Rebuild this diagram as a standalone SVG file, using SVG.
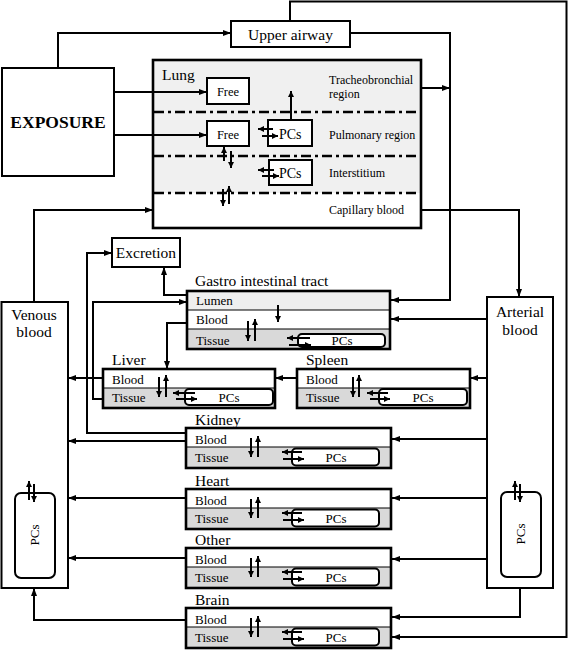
<svg xmlns="http://www.w3.org/2000/svg" width="568" height="650" viewBox="0 0 568 650">
<defs>
<style>
.t{font-family:"Liberation Serif","Times New Roman",serif;fill:#000}
.ti{font-size:15.5px}
.sm{font-size:12px}
.rw{font-size:13px}
.c{fill:none;stroke:#000;stroke-width:2}
.a{marker-end:url(#ah)}
.s{fill:none;stroke:#000;stroke-width:2;marker-end:url(#sh)}
.bx{fill:#fff;stroke:#000;stroke-width:2}
.ob{fill:none;stroke:#000;stroke-width:2.6}
.tis{fill:#d9d9d9}
.dv{stroke:#000;stroke-width:1.2}
.pc{fill:#fff;stroke:#000;stroke-width:2}
.dd{stroke:#000;stroke-width:2.6;stroke-dasharray:10,4,3,4}
</style>
<marker id="ah" viewBox="0 0 8 6" refX="8" refY="3" markerWidth="8" markerHeight="6" markerUnits="userSpaceOnUse" orient="auto"><path d="M0,0 L8,3 L0,6 z" fill="#000"/></marker>
<marker id="sh" viewBox="0 0 6 6" refX="6" refY="3" markerWidth="6" markerHeight="6" markerUnits="userSpaceOnUse" orient="auto"><path d="M0,0 L6,3 L0,6 z" fill="#000"/></marker>
</defs>
<rect width="568" height="650" fill="#fff"/>

<g id="exposure">
<rect x="2" y="68" width="112" height="108" class="bx" stroke-width="2.5"/>
<text class="t" x="58" y="128" font-size="17.5" font-weight="bold" text-anchor="middle">EXPOSURE</text>
</g>

<g id="upper-airway">
<rect x="231" y="21" width="119" height="26" class="bx"/>
<text class="t ti" x="290.5" y="40" text-anchor="middle">Upper airway</text>
</g>

<g id="lung">
<rect x="153" y="60" width="268" height="168" fill="#f0f0f0"/>
<rect x="153" y="193" width="268" height="35" fill="#fff"/>
<line class="dd" x1="154" y1="112" x2="420" y2="112"/>
<line class="dd" x1="154" y1="156" x2="420" y2="156"/>
<line class="dd" x1="154" y1="193" x2="420" y2="193"/>
<rect x="153" y="60" width="268" height="168" class="ob"/>
<text class="t ti" x="162" y="80">Lung</text>
<rect x="207" y="78" width="42" height="26" class="bx"/>
<text class="t" x="228" y="96" font-size="12.5" text-anchor="middle">Free</text>
<rect x="207" y="121" width="42" height="25" class="bx"/>
<text class="t" x="228" y="138.5" font-size="12.5" text-anchor="middle">Free</text>
<rect x="268" y="120" width="44" height="26" class="bx"/>
<text class="t" x="279" y="138.5" font-size="14">PCs</text>
<rect x="269" y="160" width="43" height="25" class="bx"/>
<text class="t" x="279" y="178" font-size="14">PCs</text>
<path class="s" d="M291,120 V91"/>
<path class="s" d="M273,129 H258"/>
<path class="s" d="M262,136 H278"/>
<path class="s" d="M274,170 H258"/>
<path class="s" d="M262,176 H279"/>
<path class="s" d="M224,161 V147"/>
<path class="s" d="M231,151 V168"/>
<path class="s" d="M223,189 V206"/>
<path class="s" d="M229,204 V186"/>
<text class="t sm" x="329" y="84">Tracheobronchial</text>
<text class="t sm" x="329" y="98">region</text>
<text class="t sm" x="329" y="139">Pulmonary region</text>
<text class="t sm" x="329" y="177">Interstitium</text>
<text class="t sm" x="329" y="214">Capillary blood</text>
</g>

<g id="excretion">
<rect x="112" y="238" width="68" height="29" class="bx"/>
<text class="t ti" x="146" y="258" text-anchor="middle">Excretion</text>
</g>

<g id="gi-tract" transform="translate(187,291)">
<text class="t ti" x="8" y="-5">Gastro intestinal tract</text>
<rect x="0" y="0" width="203" height="19" fill="#efefef"/>
<rect x="0" y="19" width="203" height="19" fill="#fff"/>
<rect x="0" y="38" width="203" height="20" class="tis"/>
<line class="dv" x1="0" y1="19" x2="203" y2="19"/>
<line class="dv" x1="0" y1="38" x2="203" y2="38"/>
<rect x="111" y="43" width="87" height="13" rx="4" class="pc"/>
<rect x="0" y="0" width="203" height="58" class="ob"/>
<text class="t rw" x="9" y="14">Lumen</text>
<text class="t rw" x="9" y="33">Blood</text>
<text class="t rw" x="9" y="54">Tissue</text>
<text class="t rw" x="155" y="54" text-anchor="middle">PCs</text>
<path class="s" d="M91,14 V31"/>
<path class="s" d="M61,30 V50"/>
<path class="s" d="M68,50 V28"/>
<path class="s" d="M123,47 H100"/>
<path class="s" d="M102,54 H124"/>
</g>

<g id="liver" transform="translate(103,369)">
<text class="t ti" x="9" y="-4">Liver</text>
<rect x="0" y="19" width="172" height="20" class="tis"/>
<line class="dv" x1="0" y1="19" x2="172" y2="19"/>
<rect x="82" y="20" width="88" height="16" rx="4" class="pc"/>
<rect x="0" y="0" width="172" height="39" class="ob"/>
<text class="t rw" x="9" y="15">Blood</text>
<text class="t rw" x="9" y="33">Tissue</text>
<text class="t rw" x="126" y="33" text-anchor="middle">PCs</text>
<path class="s" d="M56,8 V28"/>
<path class="s" d="M63,28 V6"/>
<path class="s" d="M92,24 H70"/>
<path class="s" d="M73,30 H94"/>
</g>

<g id="spleen" transform="translate(297,369)">
<text class="t ti" x="9" y="-4">Spleen</text>
<rect x="0" y="19" width="173" height="20" class="tis"/>
<line class="dv" x1="0" y1="19" x2="173" y2="19"/>
<rect x="82" y="20" width="88" height="16" rx="4" class="pc"/>
<rect x="0" y="0" width="173" height="39" class="ob"/>
<text class="t rw" x="9" y="15">Blood</text>
<text class="t rw" x="9" y="33">Tissue</text>
<text class="t rw" x="126" y="33" text-anchor="middle">PCs</text>
<path class="s" d="M56,8 V28"/>
<path class="s" d="M62,28 V6"/>
<path class="s" d="M91,24 H70"/>
<path class="s" d="M73,30 H93"/>
</g>

<g id="kidney" transform="translate(186,428)">
<text class="t ti" x="9" y="-3">Kidney</text>
<rect x="0" y="19" width="205" height="21" class="tis"/>
<line class="dv" x1="0" y1="19" x2="205" y2="19"/>
<rect x="106" y="20.5" width="87" height="17" rx="4" class="pc"/>
<rect x="0" y="0" width="205" height="40" class="ob"/>
<text class="t rw" x="9" y="16">Blood</text>
<text class="t rw" x="9" y="34">Tissue</text>
<text class="t rw" x="150" y="34" text-anchor="middle">PCs</text>
<path class="s" d="M65,10 V29"/>
<path class="s" d="M72,29 V8"/>
<path class="s" d="M116,24 H96"/>
<path class="s" d="M97,31 H118"/>
</g>

<g id="heart" transform="translate(186,489)">
<text class="t ti" x="9" y="-3">Heart</text>
<rect x="0" y="19" width="205" height="21" class="tis"/>
<line class="dv" x1="0" y1="19" x2="205" y2="19"/>
<rect x="106" y="20.5" width="87" height="17" rx="4" class="pc"/>
<rect x="0" y="0" width="205" height="40" class="ob"/>
<text class="t rw" x="9" y="16">Blood</text>
<text class="t rw" x="9" y="34">Tissue</text>
<text class="t rw" x="150" y="34" text-anchor="middle">PCs</text>
<path class="s" d="M65,10 V29"/>
<path class="s" d="M72,29 V8"/>
<path class="s" d="M116,24 H96"/>
<path class="s" d="M97,31 H118"/>
</g>

<g id="other" transform="translate(186,548)">
<text class="t ti" x="9" y="-3">Other</text>
<rect x="0" y="19" width="205" height="21" class="tis"/>
<line class="dv" x1="0" y1="19" x2="205" y2="19"/>
<rect x="106" y="20.5" width="87" height="17" rx="4" class="pc"/>
<rect x="0" y="0" width="205" height="40" class="ob"/>
<text class="t rw" x="9" y="16">Blood</text>
<text class="t rw" x="9" y="34">Tissue</text>
<text class="t rw" x="150" y="34" text-anchor="middle">PCs</text>
<path class="s" d="M65,10 V29"/>
<path class="s" d="M72,29 V8"/>
<path class="s" d="M116,24 H96"/>
<path class="s" d="M97,31 H118"/>
</g>

<g id="brain" transform="translate(186,608)">
<text class="t ti" x="9" y="-3">Brain</text>
<rect x="0" y="19" width="205" height="21" class="tis"/>
<line class="dv" x1="0" y1="19" x2="205" y2="19"/>
<rect x="106" y="20.5" width="87" height="17" rx="4" class="pc"/>
<rect x="0" y="0" width="205" height="40" class="ob"/>
<text class="t rw" x="9" y="16">Blood</text>
<text class="t rw" x="9" y="34">Tissue</text>
<text class="t rw" x="150" y="34" text-anchor="middle">PCs</text>
<path class="s" d="M65,10 V29"/>
<path class="s" d="M72,29 V8"/>
<path class="s" d="M116,24 H96"/>
<path class="s" d="M97,31 H118"/>
</g>

<g id="venous-blood">
<rect x="1.5" y="302" width="66.5" height="286" class="bx"/>
<text class="t ti" x="34" y="320" text-anchor="middle">Venous</text>
<text class="t ti" x="34" y="337" text-anchor="middle">blood</text>
<rect x="15" y="493" width="40" height="85" rx="6" class="pc"/>
<text class="t rw" transform="translate(39,535) rotate(-90)" text-anchor="middle">PCs</text>
<path class="s" d="M29,500 V481"/>
<path class="s" d="M34,484 V502"/>
</g>

<g id="arterial-blood">
<rect x="487" y="297" width="66" height="291" class="bx"/>
<text class="t ti" x="520" y="317" text-anchor="middle">Arterial</text>
<text class="t ti" x="520" y="335" text-anchor="middle">blood</text>
<rect x="501" y="492" width="40" height="85" rx="6" class="pc"/>
<text class="t rw" transform="translate(525,534) rotate(-90)" text-anchor="middle">PCs</text>
<path class="s" d="M515,500 V481"/>
<path class="s" d="M520,484 V502"/>
</g>

<g id="connectors">
<path class="c a" d="M58,68 V33 H231"/>
<path class="c a" d="M115,92 H207"/>
<path class="c a" d="M115,135 H207"/>
<path class="c a" d="M350,33 H450 V300 H391"/>
<path class="c a" d="M421,88 H450"/>
<path class="c a" d="M290,21 V1.5 H566.5 V637 H392"/>
<path class="c a" d="M421,210 H519 V297"/>
<path class="c a" d="M34,302 V210 H153"/>
<path class="c a" d="M187,295 H164 V267"/>
<path class="c a" d="M186,433 H87 V253 H112"/>
<path class="c a" d="M103,399 H93 V302 H187"/>
<path class="c a" d="M187,323 H167 V369"/>
<path class="c a" d="M297,378 H275"/>
<path class="c a" d="M487,378 H470"/>
<path class="c a" d="M103,378 H68"/>
<path class="c a" d="M487,319 H391"/>
<path class="c a" d="M487,439 H392"/>
<path class="c a" d="M186,441 H68"/>
<path class="c a" d="M487,498 H392"/>
<path class="c a" d="M186,498 H68"/>
<path class="c a" d="M487,559 H392"/>
<path class="c a" d="M186,558 H68"/>
<path class="c a" d="M520,588 V617 H392"/>
<path class="c a" d="M186,620 H34 V588"/>
</g>
</svg>
